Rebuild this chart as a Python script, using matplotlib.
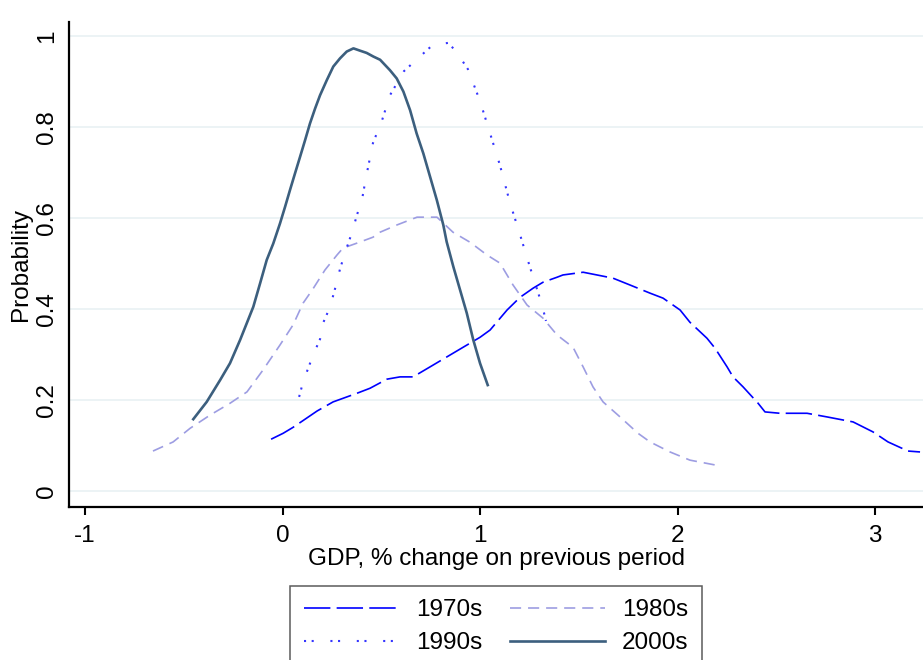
import matplotlib
matplotlib.use("Agg")
import matplotlib.pyplot as plt
import numpy as np

plt.rcParams['font.family'] = ['Liberation Sans', 'DejaVu Sans']
plt.rcParams['axes.unicode_minus'] = False
plt.rcParams['lines.scale_dashes'] = False

# Densidades (x = % cambio PIB, y = probabilidad)
x_1970s = [-0.058, 0.003, 0.053, 0.104, 0.175, 0.256, 0.377, 0.443, 0.529, 0.595,
           0.661, 0.747, 0.848, 0.914, 1.0, 1.051, 1.137, 1.203, 1.269, 1.319,
           1.390, 1.420, 1.522, 1.592, 1.673, 1.759, 1.861, 1.927, 2.013, 2.063,
           2.149, 2.190, 2.251, 2.281, 2.332, 2.408, 2.443, 2.519, 2.656, 2.757,
           2.889, 2.990, 3.066, 3.167, 3.228]
y_1970s = [0.114, 0.127, 0.140, 0.155, 0.176, 0.196, 0.215, 0.226, 0.246, 0.251,
           0.251, 0.273, 0.299, 0.316, 0.338, 0.354, 0.398, 0.426, 0.446, 0.459,
           0.470, 0.475, 0.481, 0.475, 0.468, 0.453, 0.435, 0.424, 0.398, 0.371,
           0.336, 0.314, 0.273, 0.251, 0.229, 0.193, 0.174, 0.171, 0.171, 0.163,
           0.152, 0.130, 0.108, 0.088, 0.086]

x_1980s = [-0.656, -0.554, -0.468, -0.367, -0.266, -0.180, -0.099, -0.013, 0.053, 0.104,
           0.155, 0.215, 0.276, 0.306, 0.377, 0.458, 0.494, 0.580, 0.681, 0.782,
           0.863, 0.949, 1.035, 1.101, 1.167, 1.238, 1.319, 1.390, 1.471, 1.522,
           1.572, 1.623, 1.709, 1.800, 1.861, 1.962, 2.063, 2.195]
y_1980s = [0.088, 0.108, 0.138, 0.167, 0.193, 0.218, 0.266, 0.321, 0.365, 0.413,
           0.445, 0.486, 0.519, 0.534, 0.545, 0.558, 0.569, 0.585, 0.602, 0.602,
           0.569, 0.547, 0.519, 0.501, 0.453, 0.409, 0.380, 0.343, 0.316, 0.273,
           0.229, 0.196, 0.163, 0.127, 0.108, 0.086, 0.068, 0.057]

x_1990s = [0.084, 0.104, 0.155, 0.190, 0.205, 0.241, 0.271, 0.291, 0.316, 0.352,
           0.377, 0.403, 0.423, 0.458, 0.504, 0.544, 0.615, 0.759, 0.838, 0.878,
           0.939, 1.0, 1.041, 1.101, 1.152, 1.203, 1.253, 1.314, 1.334]
y_1990s = [0.207, 0.240, 0.299, 0.334, 0.369, 0.405, 0.453, 0.488, 0.523, 0.569,
           0.607, 0.642, 0.690, 0.765, 0.815, 0.870, 0.923, 0.980, 0.985, 0.967,
           0.927, 0.857, 0.800, 0.716, 0.633, 0.563, 0.492, 0.409, 0.374]

x_2000s = [-0.452, -0.384, -0.316, -0.266, -0.215, -0.181, -0.148, -0.114, -0.080, -0.047,
           -0.013, 0.013, 0.038, 0.063, 0.089, 0.114, 0.139, 0.165, 0.190, 0.224,
           0.257, 0.291, 0.325, 0.359, 0.392, 0.426, 0.460, 0.494, 0.544, 0.578,
           0.612, 0.646, 0.679, 0.713, 0.747, 0.781, 0.814, 0.831, 0.865, 0.899,
           0.933, 0.966, 1.0, 1.039]
y_2000s = [0.158, 0.196, 0.244, 0.281, 0.332, 0.369, 0.405, 0.456, 0.508, 0.544,
           0.588, 0.625, 0.662, 0.698, 0.735, 0.771, 0.808, 0.841, 0.870, 0.903,
           0.933, 0.951, 0.966, 0.973, 0.968, 0.963, 0.955, 0.948, 0.925, 0.907,
           0.878, 0.837, 0.786, 0.742, 0.691, 0.640, 0.585, 0.548, 0.493, 0.442,
           0.391, 0.332, 0.281, 0.233]

xticks = [-1, 0, 1, 2, 3]
yticks = [0, 0.2, 0.4, 0.6, 0.8, 1]
ytick_labels = ["0", "0.2", "0.4", "0.6", "0.8", "1"]

fs = 17.5
fig = plt.figure(figsize=(9.23, 6.6), dpi=100)
ax = fig.add_axes([0.0748, 0.2318, 0.9252, 0.7349])

l70, = ax.plot(x_1970s, y_1970s, color="#0000ff", lw=1.2, dashes=(19, 4.5), label="1970s")
l80, = ax.plot(x_1980s, y_1980s, color="#9d9de2", lw=1.2, dashes=(8, 5), label="1980s")
l90, = ax.plot(x_1990s, y_1990s, color="#3535ff", lw=1.5, dashes=(1.5, 4, 1.5, 12), label="1990s")
l00, = ax.plot(x_2000s, y_2000s, color="#3c5f7e", lw=1.9, label="2000s")

ax.set_xlim(-1.081, 3.243)
ax.set_ylim(-0.035, 1.031)
ax.set_xticks(xticks)
ax.set_xticklabels([str(t) for t in xticks], fontsize=fs)
ax.set_yticks(yticks)
ax.set_yticklabels(ytick_labels, fontsize=fs, rotation=90, va="center")
ax.tick_params(axis="x", length=6, width=1.5, pad=7)
ax.tick_params(axis="y", length=0, pad=8)
ax.yaxis.grid(True, color="#e9f1f3", lw=1.2)
ax.set_axisbelow(True)
for s in ["top", "right"]:
    ax.spines[s].set_visible(False)
for s in ["left", "bottom"]:
    ax.spines[s].set_linewidth(1.6)

ax.set_xlabel("GDP, % change on previous period", fontsize=fs, labelpad=1)
ax.set_ylabel("Probability", fontsize=fs, labelpad=3)

fig.legend([l70, l90, l80, l00], ["1970s", "1990s", "1980s", "2000s"], ncol=2,
           loc="upper center", bbox_to_anchor=(496 / 923, 1 - 586 / 660),
           borderaxespad=0, fontsize=fs, frameon=True, fancybox=False,
           edgecolor="#333333", handlelength=3.9, handletextpad=0.7,
           columnspacing=1.15, labelspacing=0.45, borderpad=0.55)
fig.legends[0].get_frame().set_linewidth(1.1)

plt.savefig("out.png", dpi=100)
